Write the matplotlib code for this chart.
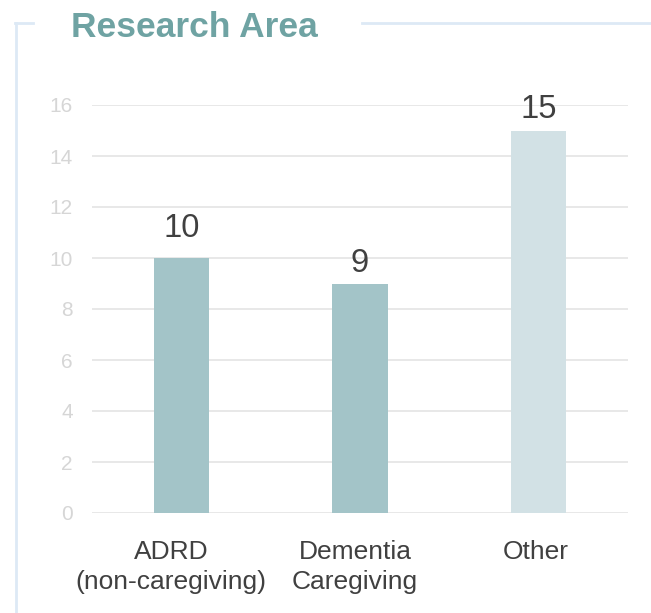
import matplotlib.pyplot as plt
from matplotlib.lines import Line2D
from matplotlib.transforms import ScaledTranslation

# Bar data
categories = ["ADRD\n(non-caregiving)", "Dementia\nCaregiving", "Other"]
counts = [10, 9, 15]
bar_colors = ["#a3c4c8", "#a3c4c8", "#d2e1e5"]
yticks = [0, 2, 4, 6, 8, 10, 12, 14, 16]
# how far each value label sits above its bar (points)
label_offsets = [10, 3, 4.3]
# small horizontal nudge of each category label (pixels)
xlabel_shift = [-10, -5, -3]

plt.rcParams['font.family'] = ['Liberation Sans', 'DejaVu Sans']

fig = plt.figure(figsize=(6.51, 6.13), dpi=100)
W, H = 651, 613

# axes in pixel coords: x 92..628, y=0 at 513, y=16 at 105
ax = fig.add_axes([92 / W, 1 - 513 / H, 536 / W, 408 / H])
ax.bar(range(len(categories)), counts, width=0.31, color=bar_colors, zorder=2)
ax.set_xlim(-0.5, 2.5)
ax.set_ylim(0, 16)
ax.set_yticks(yticks)
ax.set_xticks(range(len(categories)))
ax.set_xticklabels(categories, fontsize=19, color="#404040", linespacing=1.3)
ax.tick_params(axis='y', length=0, pad=13.7, labelsize=15, labelcolor="#d6d6d6")
ax.tick_params(axis='x', length=0, pad=19.5)
for lbl in ax.get_yticklabels():
    lbl.set_horizontalalignment('right')
for lbl, dx in zip(ax.get_xticklabels(), xlabel_shift):
    lbl.set_transform(lbl.get_transform() + ScaledTranslation(dx / 100, 0, fig.dpi_scale_trans))
ax.grid(axis='y', color="#e4e4e4", linewidth=1.2, zorder=0)
for s in ax.spines.values():
    s.set_visible(False)

# value labels above bars
for i, v in enumerate(counts):
    ax.annotate(str(v), (i, v), xytext=(0, label_offsets[i]), textcoords='offset points',
                ha='center', va='bottom', fontsize=23.5, color="#404040")

# outer frame, broken by the title
frame_col = "#dde9f5"
fig.add_artist(Line2D([16 / W, 16 / W], [0, 1 - 23 / H], color=frame_col, lw=2,
                      transform=fig.transFigure))
fig.add_artist(Line2D([15 / W, 33 / W], [1 - 23 / H] * 2, color=frame_col, lw=2,
                      transform=fig.transFigure))
fig.add_artist(Line2D([362 / W, 1], [1 - 23 / H] * 2, color=frame_col, lw=2,
                      transform=fig.transFigure))

fig.text(71 / W, 1 - 37 / H, "Research Area", fontsize=25.5, fontweight='bold',
         color="#6fa3a3", ha='left', va='baseline')

fig.savefig("out.png", dpi=100, facecolor="white")
